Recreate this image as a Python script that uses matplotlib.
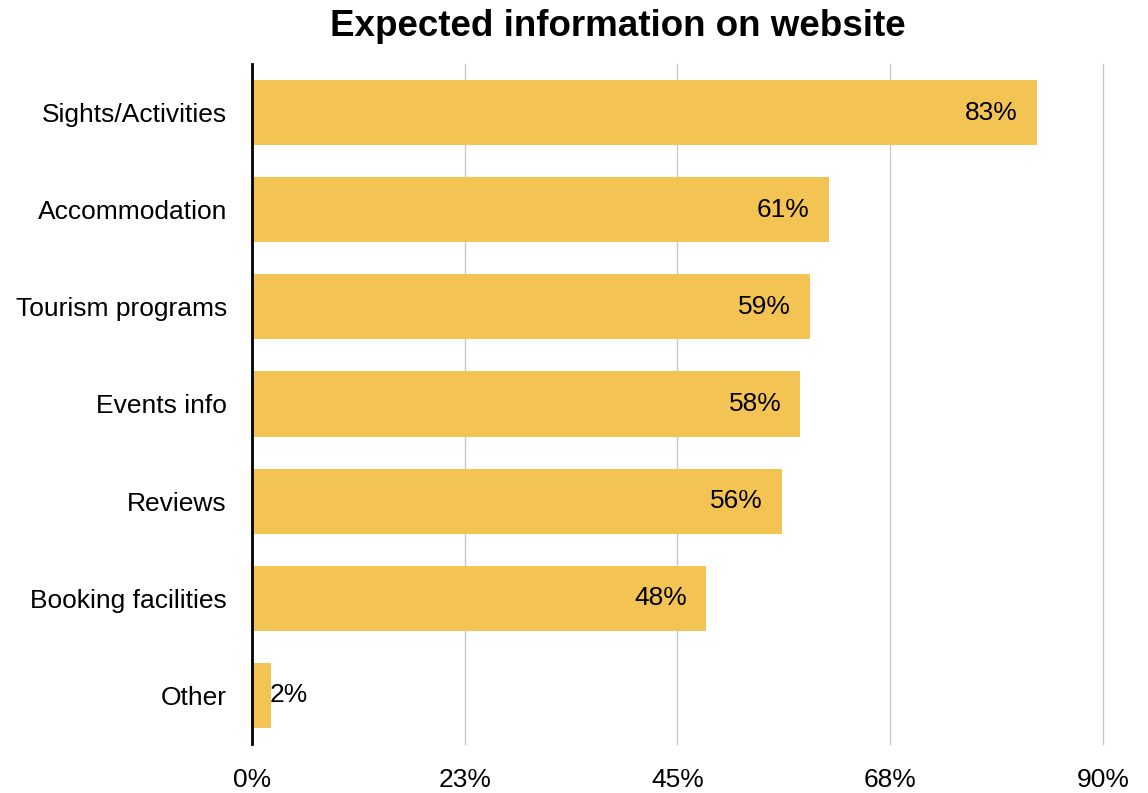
import matplotlib.pyplot as plt

plt.rcParams['font.family'] = ['Liberation Sans', 'DejaVu Sans']

categories = ['Sights/Activities', 'Accommodation', 'Tourism programs',
              'Events info', 'Reviews', 'Booking facilities', 'Other']
values = [83, 61, 59, 58, 56, 48, 2]
xticks = [0, 22.5, 45, 67.5, 90]
xtick_labels = ['0%', '23%', '45%', '68%', '90%']

bar_color = '#F3C454'

fig = plt.figure(figsize=(11.48, 7.93), dpi=100)
ax = fig.add_axes([0.2195, 0.0618, 0.7413, 0.8575])

pos = list(range(len(categories)))
ax.barh(pos, values, height=0.67, color=bar_color, zorder=2)

# value labels sit inside the bar end, small bars get them outside
for y, v in zip(pos, values):
    if v < 10:
        ax.annotate(f'{v}%', (v, y), xytext=(-1, 0), textcoords='offset points',
                    ha='left', va='center', fontsize=19, zorder=3)
    else:
        ax.annotate(f'{v}%', (v, y), xytext=(-13.7, 0), textcoords='offset points',
                    ha='right', va='center', fontsize=19, zorder=3)

ax.set_yticks(pos)
ax.set_yticklabels(categories, fontsize=19)
ax.set_ylim(len(categories) - 0.5, -0.5)

ax.set_xlim(0, 90)
ax.set_xticks(xticks)
ax.set_xticklabels(xtick_labels, fontsize=19)
ax.tick_params(axis='both', length=0)
ax.tick_params(axis='y', pad=18)
ax.tick_params(axis='x', pad=17)

ax.grid(axis='x', color='#c8c8c8', linewidth=1, zorder=0)
ax.set_axisbelow(True)
for line in ax.get_xgridlines():
    line.set_clip_on(False)
for side in ['top', 'right', 'bottom']:
    ax.spines[side].set_visible(False)
ax.spines['left'].set_linewidth(2)
ax.spines['left'].set_color('black')
ax.spines['left'].set_zorder(4)

fig.text(0.538, 0.966, 'Expected information on website', ha='center', va='center',
         fontsize=26.5, fontweight='bold')

fig.savefig('out.png', dpi=100)
